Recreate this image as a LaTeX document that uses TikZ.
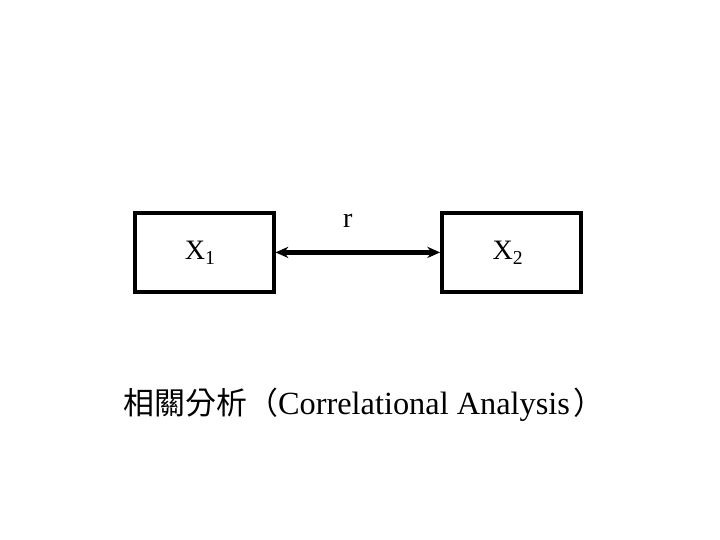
\documentclass[tikz,border=0pt]{standalone}
\usepackage{fontspec}
\setmainfont{Liberation Serif}
\newfontfamily\cjk{Noto Sans CJK TC}
\usetikzlibrary{arrows.meta, positioning}
\newcommand{\subidx}[1]{\raisebox{-0.4ex}{\fontsize{14}{16}\selectfont #1}}

\begin{document}
\begin{tikzpicture}[
  var/.style={draw, line width=0.1cm, minimum width=3.475cm, minimum height=1.975cm,
              inner sep=0pt, font=\fontsize{20}{22}\selectfont},
  link/.style={line width=0.11cm, {Stealth[length=0.32cm,width=0.28cm]}-{Stealth[length=0.32cm,width=0.28cm]}},
  lbl/.style={font=\fontsize{20}{22}\selectfont}
]
  \useasboundingbox (0,0) rectangle (18,13.5);
  % the two variables
  \node[var] (x1) at (5.1, 7.19) {\hspace*{-0.2cm}X\subidx{1}};
  \node[var] (x2) at (12.79, 7.19) {\hspace*{-0.2cm}X\subidx{2}};
  % correlation between them
  \draw[link] (x1) -- (x2) node[lbl, midway, above=0.45cm, xshift=-0.25cm] (r) {r};
  % caption
  \node[anchor=west, inner sep=0pt, font=\fontsize{23}{25}\selectfont] (title) at (3.08, 3.375)
    {{\cjk\fontsize{22}{24}\selectfont 相關分析（}Correlational Analysis\hspace{0.1cm}{\cjk\fontsize{22}{24}\selectfont ）}};
\end{tikzpicture}
\end{document}
